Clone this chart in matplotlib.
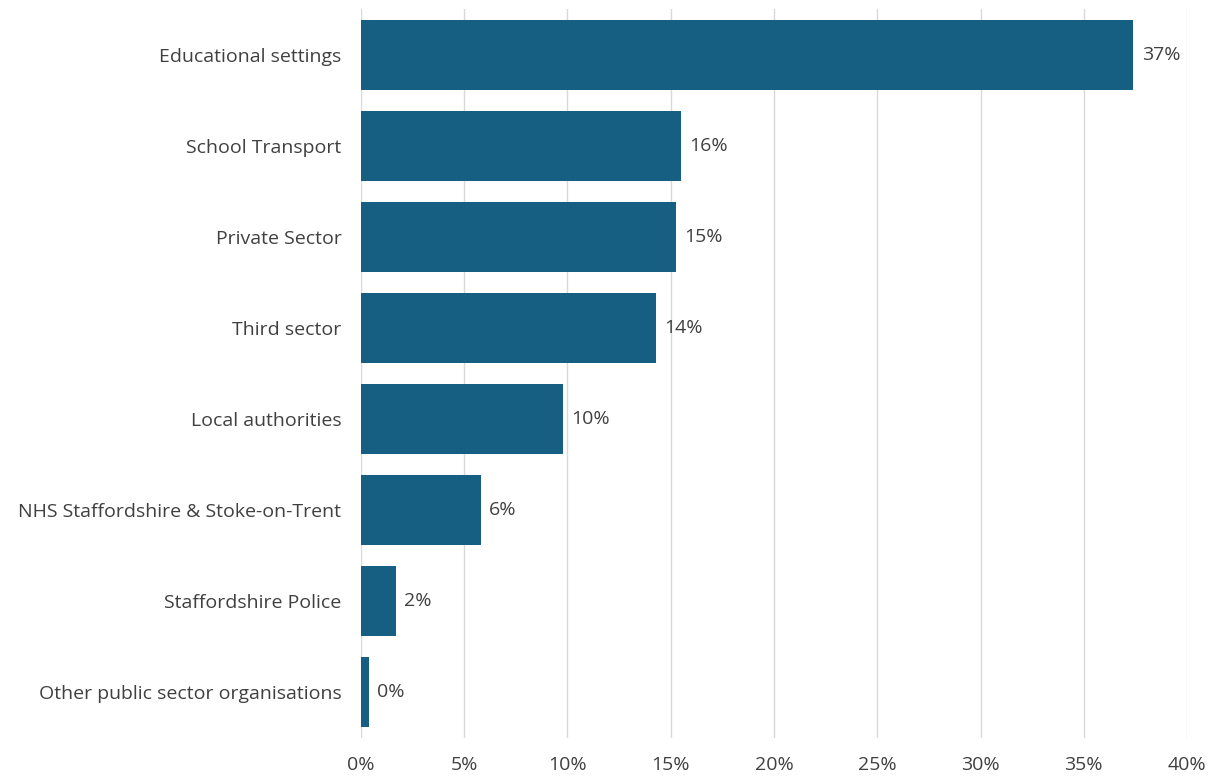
import matplotlib.pyplot as plt
import numpy as np

plt.rcParams['font.family'] = ['Open Sans', 'DejaVu Sans']

categories = ['Educational settings', 'School Transport', 'Private Sector', 'Third sector',
              'Local authorities', 'NHS Staffordshire & Stoke-on-Trent',
              'Staffordshire Police', 'Other public sector organisations']
values = [37.4, 15.5, 15.25, 14.3, 9.8, 5.8, 1.7, 0.4]
labels = ['37%', '16%', '15%', '14%', '10%', '6%', '2%', '0%']
ticks = [0, 5, 10, 15, 20, 25, 30, 35, 40]

text_col = '#404040'
fig = plt.figure(figsize=(12.15, 7.78), dpi=100)
ax = fig.add_axes([0.297, 0.052, 0.68, 0.936])

y = np.arange(len(categories))
ax.barh(y, values, height=0.77, color='#165f82', zorder=3)
for yi, v, lab in zip(y, values, labels):
    ax.text(v + 0.4, yi, lab, va='center', ha='left', fontsize=14, color=text_col)

ax.set_ylim(len(categories) - 0.5, -0.5)
ax.set_xlim(0, 40)
ax.set_yticks(y)
ax.set_yticklabels(categories, fontsize=14, color=text_col)
ax.set_xticks(ticks)
ax.set_xticklabels([f'{t}%' for t in ticks], fontsize=14, color=text_col)
ax.tick_params(length=0)
ax.tick_params(axis='y', pad=14)
ax.tick_params(axis='x', pad=13)
ax.grid(axis='x', color='#d9d9d9', linewidth=1, zorder=0)
for s in ax.spines.values():
    s.set_visible(False)

plt.savefig('out.png')
